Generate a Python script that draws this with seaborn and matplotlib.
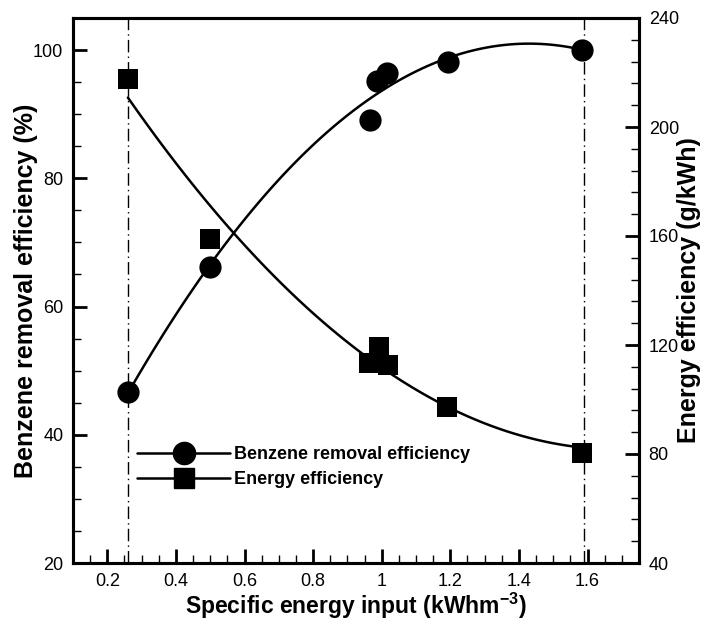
import numpy as np
import pandas as pd
import matplotlib
matplotlib.use("Agg")
import matplotlib.pyplot as plt
from matplotlib.lines import Line2D
from matplotlib.ticker import MultipleLocator
import seaborn as sns

# ---- data ----
sei_removal = [0.26, 0.50, 0.967, 0.987, 1.016, 1.193, 1.585]
removal_eff = [46.7, 66.2, 89.1, 95.1, 96.4, 98.2, 100.0]
sei_energy = [0.26, 0.50, 0.963, 0.992, 1.017, 1.19, 1.585]
energy_eff = [217.6, 158.8, 113.4, 119.1, 112.8, 97.1, 80.5]
ref_lines_x = [0.26, 1.59]
legend_labels = ["Benzene removal efficiency", "Energy efficiency"]

sns.set_style("ticks")
plt.rcParams["font.family"] = ["Liberation Sans", "DejaVu Sans"]
plt.rcParams["text.color"] = "black"
plt.rcParams["axes.labelcolor"] = "black"

df1 = pd.DataFrame({"x": sei_removal, "y": removal_eff})
df2 = pd.DataFrame({"x": sei_energy, "y": energy_eff})

fig = plt.figure(figsize=(7.07, 6.22), dpi=100)
ax = fig.add_axes([73 / 707, 59 / 622, 566 / 707, 545 / 622])
ax2 = ax.twinx()

# reference dash-dot lines
for xv in ref_lines_x:
    ax.axvline(xv, color="black", lw=1.0, ls=(0, (9, 3, 1, 3)), zorder=1)

# left series
sns.regplot(data=df1, x="x", y="y", order=2, ci=None, scatter=False, truncate=True,
            ax=ax, line_kws=dict(color="black", lw=1.8))
sns.scatterplot(data=df1, x="x", y="y", ax=ax, marker="o", s=16 ** 2, color="black",
                edgecolor="black", linewidth=0, zorder=5)

# right series
sns.regplot(data=df2, x="x", y="y", order=2, ci=None, scatter=False, truncate=True,
            ax=ax2, line_kws=dict(color="black", lw=1.8))
sns.scatterplot(data=df2, x="x", y="y", ax=ax2, marker="s", s=14.5 ** 2, color="black",
                edgecolor="black", linewidth=0, zorder=5)

ax.set_xlim(0.1, 1.75)
ax.set_ylim(20, 105)
ax2.set_ylim(40, 240)

ax.xaxis.set_major_locator(MultipleLocator(0.2))
ax.xaxis.set_minor_locator(MultipleLocator(0.05))
ax.yaxis.set_major_locator(MultipleLocator(20))
ax.yaxis.set_minor_locator(MultipleLocator(5))
ax2.yaxis.set_major_locator(MultipleLocator(40))
ax2.yaxis.set_minor_locator(MultipleLocator(8))

def fmt_x(v, pos):
    s = f"{v:.1f}"
    return "1" if abs(v - 1) < 1e-9 else s
ax.xaxis.set_major_formatter(matplotlib.ticker.FuncFormatter(fmt_x))

for a in (ax, ax2):
    for sp in a.spines.values():
        sp.set_linewidth(2.2)
        sp.set_color("black")
    a.tick_params(which="major", direction="in", length=10, width=2.0, labelsize=13,
                  colors="black", pad=7)
    a.tick_params(which="minor", direction="in", length=6, width=1.0, colors="black")
ax.tick_params(axis="x", which="both", top=False)
ax.tick_params(axis="y", which="both", right=False)
ax2.tick_params(axis="y", which="both", left=False, right=True)

ax.set_xlabel("Specific energy input (kWhm$^{\\mathregular{-3}}$)", fontsize=16.5,
              fontweight="bold", labelpad=1, color="black")
ax.set_ylabel("Benzene removal efficiency (%)", fontsize=18, fontweight="bold", color="black")
ax.yaxis.set_label_coords(-0.062, 0.5)
ax2.set_ylabel("Energy efficiency (g/kWh)", fontsize=18, fontweight="bold", color="black")
ax2.yaxis.set_label_coords(1.067, 0.5)

handles = [
    Line2D([], [], color="black", lw=1.8, marker="o", markersize=16),
    Line2D([], [], color="black", lw=1.8, marker="s", markersize=14.5),
]
leg = ax.legend(handles, legend_labels, loc="upper left", bbox_to_anchor=(0.098, 0.231),
                frameon=False, prop=dict(size=13, weight="bold"), handlelength=5.15,
                handletextpad=0.22, labelspacing=0.45, borderpad=0, labelcolor="black")

fig.savefig("out.png", dpi=100)
